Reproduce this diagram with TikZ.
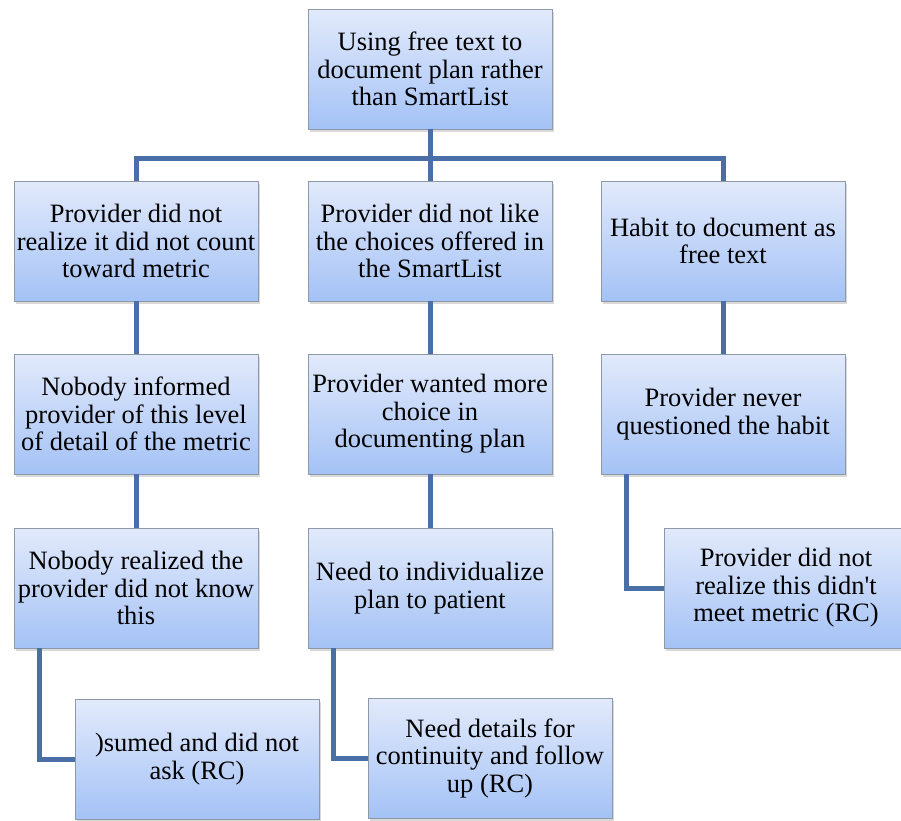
\documentclass[tikz,border=0pt]{standalone}
\usepackage{fontspec}
\setmainfont{Liberation Serif}
\usetikzlibrary{shadows}
\definecolor{linkblue}{HTML}{4A6EA6}
\definecolor{boxtop}{HTML}{E2EAFB}
\definecolor{boxbottom}{HTML}{A4C2F6}
\definecolor{boxline}{HTML}{8E99A8}
\begin{document}
\begin{tikzpicture}
        [x=1pt,y=-1pt,
        why/.style={rectangle,draw=boxline,line width=0.8pt,inner sep=1pt,align=center,
            top color=boxtop,bottom color=boxbottom,
            drop shadow={shadow xshift=2pt,shadow yshift=-2.5pt,opacity=0.3},
            minimum height=120pt,minimum width=244pt,
            font=\fontsize{26.5}{27.5}\selectfont},
        link/.style={draw=linkblue,line width=5pt},
        ]
        \useasboundingbox (0,0) rectangle (901,820);
        \node[why] (root) at (430,69) {Using free text to\\document plan rather\\than SmartList};
        \node[why] (cause-1) at (136,241) {Provider did not\\realize it did not count\\toward metric};
        \node[why] (cause-2) at (430,241) {Provider did not like\\the choices offered in\\the SmartList};
        \node[why] (cause-3) at (723,241) {Habit to document as\\free text};
        \node[why] (cause-1-1) at (136,414) {Nobody informed\\provider of this level\\of detail of the metric};
        \node[why] (cause-2-1) at (430,414) {Provider wanted more\\choice in\\documenting plan};
        \node[why] (cause-3-1) at (723,414) {Provider never\\questioned the habit};
        \node[why] (cause-1-2) at (136,588) {Nobody realized the\\provider did not know\\this};
        \node[why] (cause-2-2) at (430,588) {Need to individualize\\plan to patient};
        \node[why] (cause-3-2) at (786,588) {Provider did not\\realize this didn\textquotesingle t\\meet metric (RC)};
        \node[why] (cause-1-3) at (197,759) {)sumed and did not\\ask (RC)};
        \node[why] (cause-2-3) at (490,758) {Need details for\\continuity and follow\\up (RC)};
        \coordinate (bar) at (430,158);

        % tree
        \draw[link] (root) -- (cause-2);
        \draw[link] (cause-1.north) |- (bar) -| (cause-3.north);
        \draw[link] (cause-1) -- (cause-1-1);
        \draw[link] (cause-2) -- (cause-2-1);
        \draw[link] (cause-3) -- (cause-3-1);
        \draw[link] (cause-1-1) -- (cause-1-2);
        \draw[link] (cause-2-1) -- (cause-2-2);
        \draw[link] ([xshift=26pt]cause-3-1.south west) |- (cause-3-2.west);
        \draw[link] ([xshift=26pt]cause-1-2.south west) |- (cause-1-3.west);
        \draw[link] ([xshift=26pt]cause-2-2.south west) |- (cause-2-3.west);
    \end{tikzpicture}
\end{document}
